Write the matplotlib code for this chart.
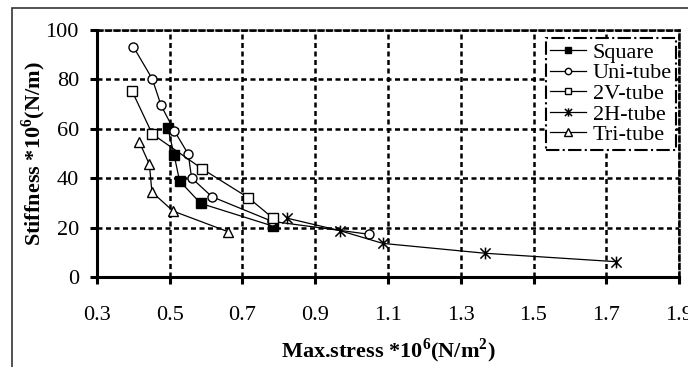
import matplotlib
matplotlib.use("Agg")
import matplotlib.pyplot as plt
from matplotlib.patches import Rectangle
from matplotlib.path import Path

plt.rcParams['font.family'] = ['Liberation Serif', 'DejaVu Serif']
plt.rcParams['mathtext.fontset'] = 'custom'
plt.rcParams['mathtext.rm'] = 'Liberation Serif'
plt.rcParams['mathtext.bf'] = 'Liberation Serif:bold'

# Data
square_x = [0.495, 0.512, 0.527, 0.585, 0.784]
square_y = [60.2, 49.4, 38.9, 29.8, 20.6]

uni_x = [0.400, 0.452, 0.476, 0.513, 0.551, 0.560, 0.616, 0.782, 1.048]
uni_y = [93.2, 80.2, 69.5, 59.1, 49.7, 40.1, 32.5, 22.5, 17.3]

v2_x = [0.396, 0.452, 0.590, 0.716, 0.784]
v2_y = [75.4, 57.9, 43.7, 32.1, 23.8]

h2_x = [0.823, 0.967, 1.086, 1.368, 1.727]
h2_y = [23.8, 18.8, 13.6, 9.6, 6.2]

tri_x = [0.416, 0.444, 0.451, 0.509, 0.661]
tri_y = [54.8, 45.6, 34.4, 26.7, 18.3]

x_ticks = [0.3, 0.5, 0.7, 0.9, 1.1, 1.3, 1.5, 1.7, 1.9]
y_ticks = [0, 20, 40, 60, 80, 100]

W, H = 688, 367
fig = plt.figure(figsize=(W / 100, H / 100), dpi=100)
ax = fig.add_axes([97 / W, 1 - 277 / H, (679 - 97) / W, (277 - 30) / H])

# figure frame
fig.patches.append(Rectangle((12 / W, -0.05), 1.2, 1 - 8 / H + 0.05,
                             transform=fig.transFigure, fill=False,
                             edgecolor='#333333', linewidth=1.2))

# X with a vertical bar marker
star = Path([(-1, -1), (1, 1), (-1, 1), (1, -1), (0, -1.15), (0, 1.15)],
            [Path.MOVETO, Path.LINETO, Path.MOVETO, Path.LINETO,
             Path.MOVETO, Path.LINETO])

dots = (0, (2, 1.4))
lw = 0.9
ms = 6.5
ax.plot(square_x, square_y, color='black', lw=lw, marker='s', ms=ms,
        mfc='black', mec='black', mew=1, label='Square', zorder=3)
ax.plot(uni_x, uni_y, color='black', lw=lw, marker='o', ms=ms,
        mfc='white', mec='black', mew=1, label='Uni-tube', zorder=3)
ax.plot(v2_x, v2_y, color='black', lw=lw, marker='s', ms=ms,
        mfc='white', mec='black', mew=1, label='2V-tube', zorder=3)
ax.plot(h2_x, h2_y, color='black', lw=lw, marker=star, ms=ms + 2,
        mfc='none', mec='black', mew=1.1, label='2H-tube', zorder=3)
ax.plot(tri_x, tri_y, color='black', lw=lw, marker='^', ms=ms + 1,
        mfc='white', mec='black', mew=1, label='Tri-tube', zorder=3)

ax.set_xlim(0.3, 1.9)
ax.set_ylim(0, 100)
ax.set_xticks(x_ticks)
ax.set_yticks(y_ticks)
ax.set_xticklabels([f"{v:.1f}" for v in x_ticks])
ax.set_yticklabels([str(v) for v in y_ticks])

ax.grid(True, color='black', linestyle=dots, linewidth=1.8, zorder=1)
ax.set_axisbelow(True)

for s in ['left', 'bottom']:
    ax.spines[s].set_linewidth(2.2)
for s in ['top', 'right']:
    ax.spines[s].set_linewidth(1.8)
    ax.spines[s].set_linestyle(dots)

ax.tick_params(axis='both', direction='out', length=5, width=2.2,
               labelsize=16, colors='black')
ax.tick_params(axis='x', pad=16)
ax.tick_params(axis='y', pad=8)

ax.set_xlabel(r'Max.stress *10$^{\mathbf{6}}$(N/m$^{\mathbf{2}}$)',
              fontsize=16, fontweight='bold', labelpad=8)
ax.set_ylabel(r'Stiffness *10$^{\mathbf{6}}$(N/m)',
              fontsize=16, fontweight='bold', labelpad=-2)

leg = ax.legend(loc='upper right', bbox_to_anchor=(0.995, 0.968),
                fontsize=16, labelspacing=0.0, handlelength=1.6,
                handletextpad=0.3, borderpad=0.2, borderaxespad=0,
                markerscale=0.7, fancybox=False, framealpha=1)
fr = leg.get_frame()
fr.set_edgecolor('black')
fr.set_linewidth(1.5)
fr.set_linestyle('-.')

fig.savefig('out.png', dpi=100)
